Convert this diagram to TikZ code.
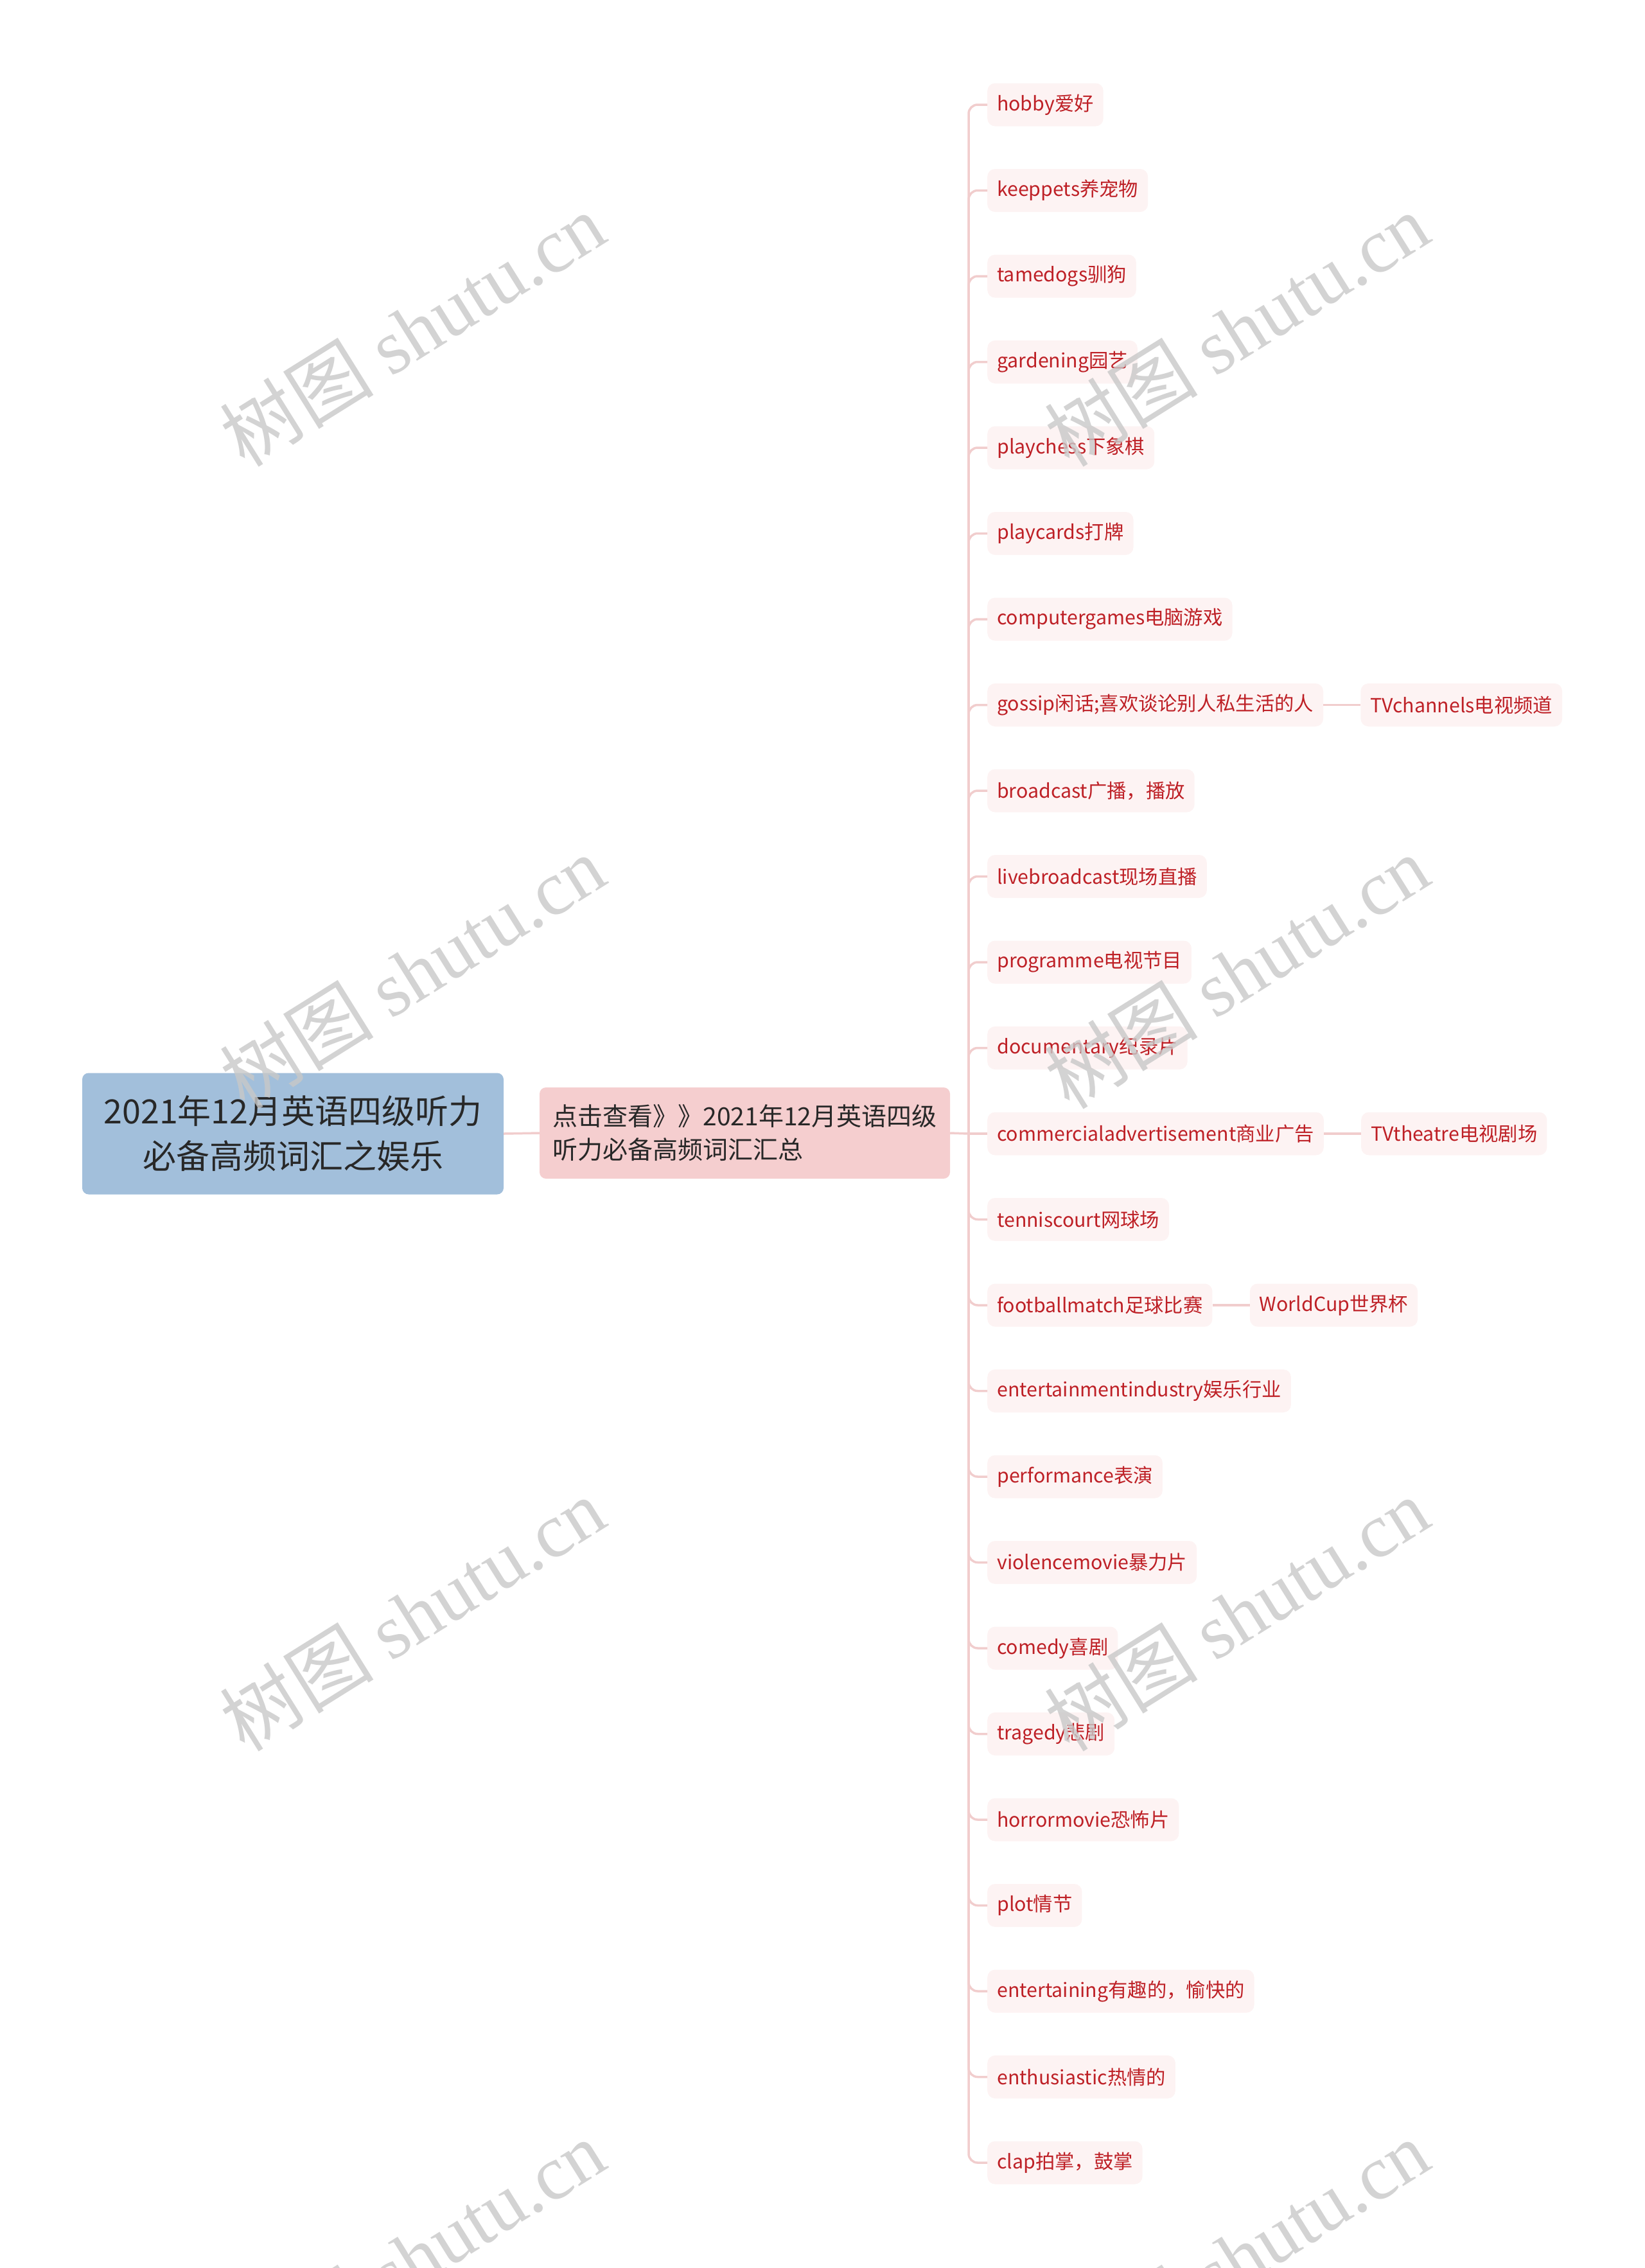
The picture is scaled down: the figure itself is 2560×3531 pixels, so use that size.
\documentclass[tikz,border=0pt]{standalone}
\usepackage{fontspec}
\setmainfont{Noto Sans CJK SC}
\newfontfamily\wmlat{Liberation Serif}
\newfontfamily\wmcjk{Noto Sans CJK SC}
\definecolor{rootfill}{RGB}{162,191,219}
\definecolor{midfill}{RGB}{245,206,207}
\definecolor{leaffill}{RGB}{253,243,243}
\definecolor{leaftext}{RGB}{190,32,38}
\definecolor{textdark}{RGB}{40,40,40}
\definecolor{linecol}{RGB}{241,205,205}
\definecolor{wmcol}{RGB}{200,200,200}
\begin{document}
\begin{tikzpicture}[x=1pt,y=-1pt,
  rootbox/.style={fill=rootfill, rounded corners=10pt, text=textdark, minimum width=656pt, minimum height=189pt, align=center, inner sep=0pt, font=\fontsize{52}{70}\selectfont},
  midbox/.style={fill=midfill, rounded corners=10pt, text=textdark, minimum width=639pt, minimum height=142pt, align=left, inner sep=0pt, font=\fontsize{39}{52}\selectfont},
  leaf/.style={fill=leaffill, text=leaftext, rounded corners=12pt, minimum height=67pt, inner xsep=15pt, inner ysep=0pt, anchor=west, font=\fontsize{30.3}{36}\selectfont},
  conn/.style={draw=linecol, line width=3.5pt, rounded corners=14pt},
  wmark/.style={text=wmcol, opacity=0.8, rotate=32, font=\fontsize{120}{120}\selectfont}
]
\useasboundingbox (0,0) rectangle (2560,3531);

\node[rootbox] (root) at (456,1765) {2021年12月英语四级听力\\必备高频词汇之娱乐};
\node[midbox] (mid) at (1159.5,1764) {点击查看》》2021年12月英语四级\\听力必备高频词汇汇总};
\coordinate (j) at (1508,1765);
\draw[conn] (root.east) -- (mid.west);
\draw[conn] (mid.east) -- (j);

\foreach \t [count=\i from 0] in {hobby爱好, keeppets养宠物, tamedogs驯狗, gardening园艺, playchess下象棋, playcards打牌, computergames电脑游戏, gossip闲话;喜欢谈论别人私生活的人, broadcast广播，播放, livebroadcast现场直播, programme电视节目, documentary纪录片, commercialadvertisement商业广告, tenniscourt网球场, footballmatch足球比赛, entertainmentindustry娱乐行业, performance表演, violencemovie暴力片, comedy喜剧, tragedy悲剧, horrormovie恐怖片, plot情节, entertaining有趣的，愉快的, enthusiastic热情的, clap拍掌，鼓掌}{
  \node[leaf] (l\i) at (1537,163+\i*133.5) {\t};
  \ifnum\i=12
    \draw[conn] (j) -- (l\i.west);
  \else
    \draw[conn] (l\i.west) -- (j |- l\i.west) -- (j);
  \fi
}

\node[leaf] (c7) at ([xshift=58pt]l7.east) {TVchannels电视频道};
\node[leaf] (c12) at ([xshift=58pt]l12.east) {TVtheatre电视剧场};
\node[leaf] (c14) at ([xshift=58pt]l14.east) {WorldCup世界杯};
\draw[conn] (l7.east) -- (c7.west);
\draw[conn] (l12.east) -- (c12.west);
\draw[conn] (l14.east) -- (c14.west);

\foreach \wx/\wy [count=\k] in {642/513, 1925/513, 642/1513, 1925/1513, 642/2513, 1925/2513, 642/3513, 1925/3513}{
  \node[wmark] (wm\k) at (\wx,\wy) {{\wmcjk 树图} {\wmlat shutu.cn}};
}
\end{tikzpicture}
\end{document}
